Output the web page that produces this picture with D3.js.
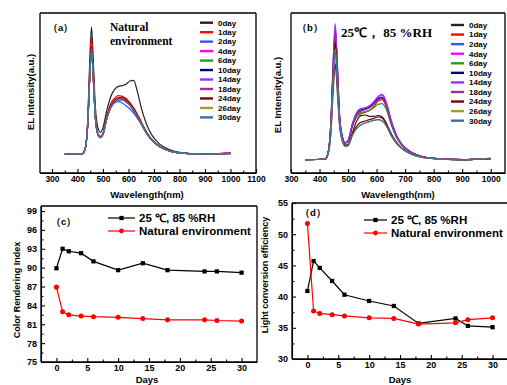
<!DOCTYPE html>
<html>
<head>
<meta charset="utf-8">
<script src="https://cdn.jsdelivr.net/npm/d3@7"></script>
<style>
  body { margin: 0; background: #fff; }
  svg { display: block; font-family: "Liberation Sans", Arial, sans-serif; font-weight: bold; }
</style>
</head>
<body>
<svg id="chart" width="507" height="385"></svg>
<script>
// ---- data ----
const wavelengths = [350, 420, 430, 440, 448, 455, 462, 470, 480, 490, 500, 515, 530, 545, 560, 575, 590, 605, 620, 635, 650, 670, 690, 720, 760, 800, 900, 1000];
const dayLabels = ['0day', '1day', '2day', '4day', '6day', '10day', '14day', '18day', '24day', '26day', '30day'];
const dayColors = ['#222222', '#ff0000', '#3355ff', '#ff00ff', '#2a9a2a', '#000080', '#9933ff', '#993399', '#800000', '#a0a020', '#3a6fa8'];

// (a) natural environment
const spectraNatural = [
  [0, 0.005, 0.04, 0.25, 0.70, 0.955, 0.70, 0.36, 0.20, 0.165, 0.20, 0.33, 0.43, 0.485, 0.51, 0.515, 0.525, 0.55, 0.555, 0.47, 0.35, 0.23, 0.15, 0.08, 0.035, 0.015, 0, 0.005],
  [0, 0.005, 0.04, 0.24, 0.64, 0.88, 0.64, 0.31, 0.16, 0.135, 0.16, 0.29, 0.38, 0.42, 0.44, 0.435, 0.42, 0.39, 0.35, 0.30, 0.245, 0.17, 0.115, 0.065, 0.028, 0.012, 0, 0.005],
  [0, 0.005, 0.04, 0.22, 0.58, 0.80, 0.58, 0.28, 0.15, 0.125, 0.15, 0.27, 0.35, 0.385, 0.395, 0.385, 0.365, 0.34, 0.31, 0.27, 0.225, 0.16, 0.11, 0.06, 0.026, 0.011, 0, 0.006],
  [0, 0.005, 0.04, 0.22, 0.58, 0.80, 0.58, 0.28, 0.15, 0.125, 0.15, 0.27, 0.35, 0.39, 0.41, 0.41, 0.395, 0.37, 0.33, 0.28, 0.23, 0.16, 0.11, 0.06, 0.026, 0.011, 0, 0.015],
  [0, 0.005, 0.04, 0.22, 0.57, 0.79, 0.57, 0.28, 0.15, 0.125, 0.15, 0.27, 0.35, 0.39, 0.41, 0.41, 0.395, 0.37, 0.33, 0.28, 0.23, 0.16, 0.11, 0.06, 0.026, 0.011, 0, 0.008],
  [0, 0.005, 0.04, 0.22, 0.58, 0.81, 0.58, 0.28, 0.15, 0.125, 0.15, 0.27, 0.35, 0.392, 0.412, 0.412, 0.398, 0.372, 0.332, 0.282, 0.232, 0.162, 0.11, 0.06, 0.026, 0.011, 0, 0.01],
  [0, 0.005, 0.04, 0.22, 0.57, 0.79, 0.57, 0.28, 0.15, 0.125, 0.15, 0.27, 0.352, 0.395, 0.415, 0.415, 0.40, 0.375, 0.335, 0.285, 0.233, 0.163, 0.11, 0.06, 0.026, 0.011, 0, 0.012],
  [0, 0.005, 0.04, 0.22, 0.57, 0.78, 0.57, 0.28, 0.15, 0.125, 0.15, 0.27, 0.352, 0.395, 0.415, 0.415, 0.40, 0.375, 0.335, 0.285, 0.233, 0.163, 0.11, 0.06, 0.026, 0.011, 0, 0.01],
  [0, 0.005, 0.04, 0.22, 0.58, 0.80, 0.58, 0.28, 0.15, 0.128, 0.155, 0.28, 0.36, 0.405, 0.425, 0.425, 0.41, 0.38, 0.34, 0.29, 0.235, 0.165, 0.112, 0.061, 0.026, 0.011, 0, 0.01],
  [0, 0.005, 0.04, 0.22, 0.57, 0.79, 0.57, 0.28, 0.15, 0.125, 0.15, 0.27, 0.35, 0.39, 0.41, 0.41, 0.395, 0.37, 0.33, 0.28, 0.23, 0.16, 0.11, 0.06, 0.026, 0.011, 0, 0.012],
  [0, 0.005, 0.04, 0.22, 0.57, 0.78, 0.57, 0.28, 0.15, 0.125, 0.15, 0.27, 0.35, 0.39, 0.408, 0.408, 0.392, 0.368, 0.328, 0.278, 0.228, 0.158, 0.108, 0.06, 0.026, 0.011, 0, 0.008]
];

// (b) 25 C, 85 %RH
const spectraHumid = [
  [0, 0.005, 0.04, 0.20, 0.52, 0.72, 0.52, 0.26, 0.14, 0.105, 0.11, 0.20, 0.29, 0.33, 0.335, 0.325, 0.325, 0.33, 0.32, 0.27, 0.20, 0.13, 0.085, 0.045, 0.018, 0.008, 0, 0.008],
  [0, 0.005, 0.05, 0.25, 0.63, 0.87, 0.63, 0.30, 0.16, 0.125, 0.14, 0.25, 0.32, 0.345, 0.355, 0.37, 0.40, 0.44, 0.45, 0.39, 0.28, 0.17, 0.105, 0.055, 0.022, 0.01, 0, 0.008],
  [0, 0.005, 0.05, 0.28, 0.71, 0.98, 0.71, 0.33, 0.17, 0.125, 0.14, 0.26, 0.34, 0.37, 0.38, 0.395, 0.425, 0.46, 0.47, 0.41, 0.29, 0.175, 0.11, 0.057, 0.023, 0.01, 0, 0.008],
  [0, 0.005, 0.05, 0.29, 0.73, 1.00, 0.73, 0.34, 0.17, 0.125, 0.14, 0.26, 0.345, 0.375, 0.385, 0.40, 0.43, 0.47, 0.485, 0.42, 0.30, 0.18, 0.11, 0.058, 0.023, 0.01, 0, 0.01],
  [0, 0.005, 0.05, 0.26, 0.65, 0.90, 0.65, 0.31, 0.16, 0.125, 0.14, 0.25, 0.33, 0.355, 0.36, 0.37, 0.39, 0.415, 0.42, 0.37, 0.27, 0.165, 0.105, 0.055, 0.022, 0.01, 0, 0.008],
  [0, 0.005, 0.05, 0.28, 0.70, 0.96, 0.70, 0.33, 0.17, 0.125, 0.14, 0.26, 0.34, 0.37, 0.38, 0.392, 0.42, 0.455, 0.465, 0.405, 0.29, 0.175, 0.11, 0.057, 0.023, 0.01, 0, 0.008],
  [0, 0.005, 0.05, 0.30, 0.75, 1.02, 0.75, 0.35, 0.175, 0.128, 0.145, 0.27, 0.355, 0.385, 0.39, 0.405, 0.435, 0.475, 0.49, 0.425, 0.305, 0.182, 0.112, 0.058, 0.023, 0.01, 0, 0.01],
  [0, 0.005, 0.05, 0.27, 0.69, 0.95, 0.69, 0.32, 0.165, 0.125, 0.14, 0.26, 0.34, 0.365, 0.375, 0.39, 0.415, 0.45, 0.46, 0.40, 0.285, 0.172, 0.108, 0.056, 0.022, 0.01, 0, 0.008],
  [0, 0.005, 0.05, 0.25, 0.64, 0.88, 0.64, 0.30, 0.15, 0.11, 0.115, 0.19, 0.25, 0.28, 0.29, 0.30, 0.31, 0.32, 0.31, 0.26, 0.19, 0.125, 0.082, 0.043, 0.017, 0.008, 0, 0.008],
  [0, 0.005, 0.045, 0.24, 0.61, 0.83, 0.61, 0.29, 0.145, 0.10, 0.105, 0.18, 0.235, 0.26, 0.275, 0.285, 0.295, 0.30, 0.29, 0.25, 0.185, 0.12, 0.08, 0.042, 0.017, 0.008, 0, 0.012],
  [0, 0.005, 0.045, 0.23, 0.60, 0.82, 0.60, 0.28, 0.14, 0.10, 0.105, 0.18, 0.235, 0.26, 0.275, 0.285, 0.295, 0.30, 0.29, 0.25, 0.185, 0.12, 0.08, 0.042, 0.017, 0.008, 0, 0.008]
];

const wlTicksA = [300, 400, 500, 600, 700, 800, 900, 1000, 1100];
const wlTicksB = [300, 400, 500, 600, 700, 800, 900, 1000];

// (c) / (d)
const days = [0, 1, 2, 4, 6, 10, 14, 18, 24, 26, 30];
const criHumid = [89.9, 93.0, 92.6, 92.3, 91.0, 89.6, 90.7, 89.6, 89.4, 89.4, 89.2];
const criNatural = [86.9, 83.0, 82.5, 82.3, 82.2, 82.1, 81.9, 81.7, 81.7, 81.6, 81.5];
const lceHumid = [40.9, 45.7, 44.6, 42.5, 40.3, 39.3, 38.5, 35.7, 36.5, 35.3, 35.1];
const lceNatural = [51.7, 37.7, 37.3, 37.1, 36.9, 36.6, 36.5, 35.6, 35.8, 36.3, 36.6];
const seriesNames = ['25 \u2103, 85 %RH', 'Natural environment'];
const criTicks = [75, 78, 81, 84, 87, 90, 93, 96, 99];
const lceTicks = [30, 35, 40, 45, 50, 55];
const dayTicks = [0, 5, 10, 15, 20, 25, 30];

const svg = d3.select('#chart');
const serif = '"Liberation Serif", "Times New Roman", serif';

function styleAxis(g, size) {
  g.attr('font-family', null).attr('font-size', size);
  g.selectAll('text').attr('fill', '#000');
  g.selectAll('line, path').attr('stroke', '#000').attr('stroke-width', 1.1);
}

function minorValues(major, step) {
  const out = [];
  for (let i = 0; i < major.length - 1; i++) out.push(major[i] + step);
  return out;
}

function frame(g, box, sides) {
  const p = d3.path();
  if (sides.includes('t')) { p.moveTo(box.left, box.top); p.lineTo(box.right, box.top); }
  if (sides.includes('r')) { p.moveTo(box.right, box.top); p.lineTo(box.right, box.bottom); }
  if (sides.includes('b')) { p.moveTo(box.left, box.bottom); p.lineTo(box.right, box.bottom); }
  if (sides.includes('l')) { p.moveTo(box.left, box.top); p.lineTo(box.left, box.bottom); }
  g.append('path').attr('d', p.toString()).attr('fill', 'none').attr('stroke', '#000').attr('stroke-width', 1.3);
}

function spectrumPanel(cfg) {
  const x = d3.scaleLinear().domain(cfg.xDomain).range([cfg.left, cfg.right]);
  const y = d3.scaleLinear().domain(cfg.yDomain).range([cfg.bottom, cfg.top]);
  const g = svg.append('g');

  const xAxis = g.append('g').attr('transform', `translate(0,${cfg.bottom})`)
    .call(d3.axisBottom(x).tickValues(cfg.ticks).tickSizeInner(-4).tickSizeOuter(0).tickPadding(3).tickFormat(d3.format('d')));
  styleAxis(xAxis, 8.5);
  const xMinor = g.append('g').attr('transform', `translate(0,${cfg.bottom})`)
    .call(d3.axisBottom(x).tickValues(minorValues(cfg.ticks, 50)).tickSizeInner(-2.5).tickSizeOuter(0).tickFormat(''));
  styleAxis(xMinor, 8);
  xMinor.select('.domain').remove();

  frame(g, cfg, 'trbl');

  const line = d3.line()
    .x((d, i) => x(wavelengths[i]))
    .y(d => y(d))
    .curve(d3.curveMonotoneX);

  g.selectAll('.spec')
    .data(cfg.spectra)
    .enter().append('path')
    .attr('class', 'spec')
    .attr('d', line)
    .attr('fill', 'none')
    .attr('stroke', (d, i) => dayColors[i])
    .attr('stroke-width', 1.2);

  // legend
  const leg = g.selectAll('.leg').data(dayLabels).enter().append('g')
    .attr('transform', (d, i) => `translate(${cfg.legX},${cfg.legY + i * cfg.legStep})`);
  leg.append('line').attr('x1', 0).attr('x2', 13).attr('stroke', (d, i) => dayColors[i]).attr('stroke-width', 2.4);
  leg.append('text').attr('x', 18).attr('dy', '0.35em').attr('font-size', 8).text(d => d);

  g.append('text').attr('x', cfg.labelX).attr('y', 31).attr('font-size', 9.5).text(cfg.label);

  g.append('text')
    .attr('transform', `translate(${cfg.yTitleX},${cfg.yTitleY}) rotate(-90)`)
    .attr('text-anchor', 'middle').attr('font-size', 9.5)
    .text('EL Intensity(a.u.)');
  g.append('text')
    .attr('x', (cfg.left + cfg.right) / 2 + cfg.xTitleShift).attr('y', 198)
    .attr('text-anchor', 'middle').attr('font-size', 9.5)
    .text('Wavelength(nm)');
  return g;
}

function timePanel(cfg) {
  const x = d3.scaleLinear().domain([-2.5, 32.5]).range([cfg.left, cfg.right]);
  const y = d3.scaleLinear().domain(cfg.yDomain).range([cfg.bottom, cfg.top]);
  const g = svg.append('g');

  const yAxis = g.append('g').attr('transform', `translate(${cfg.left},0)`)
    .call(d3.axisLeft(y).tickValues(cfg.yTicks).tickSizeInner(-4).tickSizeOuter(0).tickPadding(4));
  styleAxis(yAxis, 9);
  const yMinor = g.append('g').attr('transform', `translate(${cfg.left},0)`)
    .call(d3.axisLeft(y).tickValues(minorValues(cfg.yTicks, cfg.yMinorStep)).tickSizeInner(-2.5).tickSizeOuter(0).tickFormat(''));
  styleAxis(yMinor, 9);
  yMinor.select('.domain').remove();

  const xAxis = g.append('g').attr('transform', `translate(0,${cfg.bottom})`)
    .call(d3.axisBottom(x).tickValues(dayTicks).tickSizeInner(-4).tickSizeOuter(0).tickPadding(3));
  styleAxis(xAxis, 9);
  const xMinor = g.append('g').attr('transform', `translate(0,${cfg.bottom})`)
    .call(d3.axisBottom(x).tickValues(minorValues(dayTicks, 2.5)).tickSizeInner(-2.5).tickSizeOuter(0).tickFormat(''));
  styleAxis(xMinor, 9);
  xMinor.select('.domain').remove();

  frame(g, cfg, 'trbl');

  const line = d3.line().x((d, i) => x(days[i])).y(d => y(d));
  const series = [
    { values: cfg.humid, color: '#000', shape: d3.symbolSquare },
    { values: cfg.natural, color: '#ff0000', shape: d3.symbolCircle }
  ];

  series.forEach(s => {
    g.append('path').attr('d', line(s.values)).attr('fill', 'none')
      .attr('stroke', s.color).attr('stroke-width', 1.2);
    g.selectAll(null).data(s.values).enter().append('path')
      .attr('transform', (d, i) => `translate(${x(days[i])},${y(d)})`)
      .attr('d', d3.symbol().type(s.shape).size(s.shape === d3.symbolSquare ? 18 : 20))
      .attr('fill', s.color);
  });

  // legend
  series.forEach((s, i) => {
    const ly = cfg.legY + i * 13;
    g.append('line').attr('x1', cfg.legX).attr('x2', cfg.legX + cfg.legW).attr('y1', ly).attr('y2', ly)
      .attr('stroke', s.color).attr('stroke-width', 1.2);
    g.append('path').attr('transform', `translate(${cfg.legX + cfg.legW / 2},${ly})`)
      .attr('d', d3.symbol().type(s.shape).size(18)).attr('fill', s.color);
    g.append('text').attr('x', cfg.legX + cfg.legW + 4).attr('y', ly).attr('dy', '0.36em')
      .attr('font-size', 11.5).text(seriesNames[i]);
  });

  g.append('text').attr('x', cfg.labelX).attr('y', cfg.labelY).attr('font-size', 9.5).text(cfg.label);
  g.append('text')
    .attr('transform', `translate(${cfg.yTitleX},${cfg.yTitleY}) rotate(-90)`)
    .attr('text-anchor', 'middle').attr('font-size', 9)
    .text(cfg.yTitle);
  g.append('text').attr('x', cfg.daysX).attr('y', 383).attr('text-anchor', 'middle').attr('font-size', 9.5).text('Days');
}

// (a)
spectrumPanel({
  left: 40, right: 256, top: 13, bottom: 173,
  xDomain: [253, 1100], yDomain: [-0.14, 1.06], ticks: wlTicksA,
  spectra: spectraNatural, legX: 200, legY: 22.7, legStep: 9.47,
  label: '\uff08a\uff09', labelX: 48, yTitleX: 33.5, yTitleY: 92, xTitleShift: -1
});
const note = svg.append('g').attr('font-family', serif).attr('font-size', 11.5);
note.append('text').attr('x', 110).attr('y', 31).text('Natural');
note.append('text').attr('x', 110).attr('y', 45).text('environment');

// (b)
spectrumPanel({
  left: 291, right: 505, top: 13, bottom: 173,
  xDomain: [300, 1050], yDomain: [-0.1, 1.1], ticks: wlTicksB,
  spectra: spectraHumid, legX: 451, legY: 25, legStep: 9.57,
  label: '\uff08b\uff09', labelX: 297, yTitleX: 281, yTitleY: 95, xTitleShift: 0
});
svg.append('text').attr('x', 341).attr('y', 37).attr('font-family', serif).attr('font-size', 13)
  .text('25\u2103\uff0c 85 %RH');

// (c)
timePanel({
  left: 41, right: 257, top: 206, bottom: 362,
  yDomain: [75, 99.8], yTicks: criTicks, yMinorStep: 1.5,
  humid: criHumid, natural: criNatural,
  legX: 108, legY: 218, legW: 27,
  label: '\uff08c\uff09', labelX: 51, labelY: 225,
  yTitle: 'Color Rendering Index', yTitleX: 20, yTitleY: 290, daysX: 147
});

// (d)
timePanel({
  left: 292, right: 508, top: 203, bottom: 359,
  yDomain: [30, 55], yTicks: lceTicks, yMinorStep: 2.5,
  humid: lceHumid, natural: lceNatural,
  legX: 364, legY: 220, legW: 23,
  label: '\uff08d\uff09', labelX: 300, labelY: 216,
  yTitle: 'Light conversion efficiency', yTitleX: 268, yTitleY: 275, daysX: 400
});
</script>
</body>
</html>
